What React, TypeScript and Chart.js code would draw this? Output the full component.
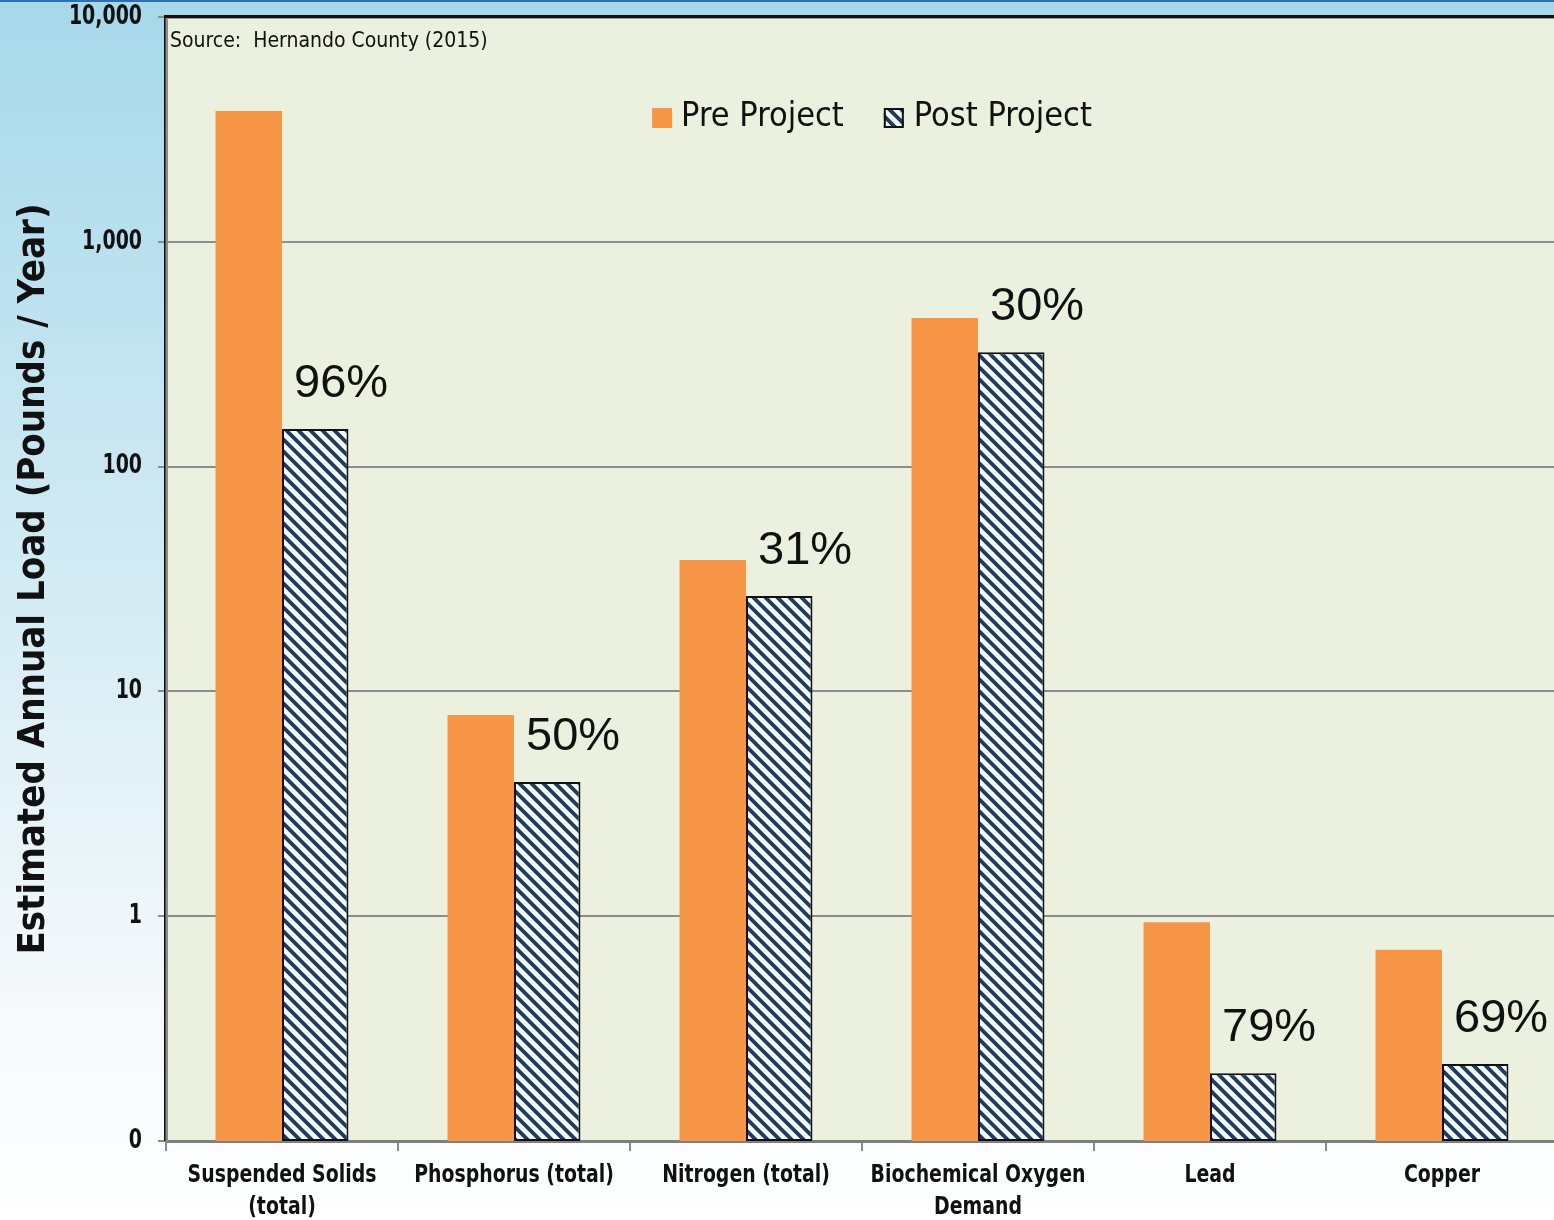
import React, { useEffect, useRef } from "react";
import { Chart, registerables } from "chart.js";

Chart.register(...registerables);

const categories: (string | string[])[] = [
  ["Suspended Solids", "(total)"],
  "Phosphorus (total)",
  "Nitrogen (total)",
  ["Biochemical Oxygen", "Demand"],
  "Lead",
  "Copper",
];
const preProject = [3820, 7.85, 38.4, 458, 0.94, 0.71];
const postProject = [147, 3.95, 26.6, 323, 0.2, 0.22];
const reductionLabels = ["96%", "50%", "31%", "30%", "79%", "69%"];
const yTickValues = [0.1, 1, 10, 100, 1000, 10000];
const yTickLabels = ["0", "1", "10", "100", "1,000", "10,000"];
const seriesNames = ["Pre Project", "Post Project"];
const sourceNote = "Source:  Hernando County (2015)";
const yAxisTitle = "Estimated Annual Load (Pounds / Year)";

const NARROW = "'DejaVu Sans Condensed', 'Liberation Sans Narrow', sans-serif";
const ORANGE = "#F79646";
const NAVY = "#1F3B5E";

function makeHatch(ctx: CanvasRenderingContext2D): CanvasPattern | string {
  const s = 12;
  const c = document.createElement("canvas");
  c.width = s;
  c.height = s;
  const g = c.getContext("2d");
  if (!g) return NAVY;
  g.fillStyle = "#F3FAFF";
  g.fillRect(0, 0, s, s);
  g.strokeStyle = NAVY;
  g.lineWidth = 3.8;
  g.beginPath();
  g.moveTo(-3, -3);
  g.lineTo(s + 3, s + 3);
  g.moveTo(-3, s - 3);
  g.lineTo(3, s + 3);
  g.moveTo(s - 3, -3);
  g.lineTo(s + 3, 3);
  g.stroke();
  return ctx.createPattern(c, "repeat") || NAVY;
}

function squeezedText(
  c: CanvasRenderingContext2D,
  text: string,
  x: number,
  y: number,
  k: number,
  align: "left" | "right" | "center"
) {
  c.save();
  c.translate(x, y);
  c.scale(k, 1);
  c.textAlign = align;
  c.fillText(text, 0, 0);
  c.restore();
}

export default function App() {
  const canvasRef = useRef<HTMLCanvasElement | null>(null);

  useEffect(() => {
    document.body.style.margin = "0";
    document.body.style.overflow = "hidden";
    const canvas = canvasRef.current;
    if (!canvas) return;
    const ctx = canvas.getContext("2d");
    if (!ctx) return;
    const hatch = makeHatch(ctx);

    const backgroundPlugin = {
      id: "bgPlugin",
      beforeDraw(chart: any) {
        const c = chart.ctx;
        const { width, height, chartArea } = chart;
        c.save();
        const grad = c.createLinearGradient(0, 0, 0, height);
        grad.addColorStop(0, "#A6D8EA");
        grad.addColorStop(0.5, "#D6ECF4");
        grad.addColorStop(0.82, "#F5F9FB");
        grad.addColorStop(1, "#FFFFFF");
        c.fillStyle = grad;
        c.fillRect(0, 0, width, height);
        c.fillStyle = "#2F6FAF";
        c.fillRect(0, 0, width, 2);
        c.fillStyle = "#EBF0DF";
        c.fillRect(chartArea.left, chartArea.top, chartArea.right - chartArea.left, chartArea.bottom - chartArea.top);
        c.restore();
      },
      afterDraw(chart: any) {
        const c = chart.ctx;
        const { chartArea } = chart;
        c.save();
        // top black frame
        c.fillStyle = "#111111";
        c.fillRect(chartArea.left - 2, chartArea.top - 2, chartArea.right - chartArea.left + 4, 3);
        c.fillStyle = "#9A9A9A";
        c.fillRect(chartArea.left, chartArea.top + 1, chartArea.right - chartArea.left, 1);
        c.fillStyle = "#111111";
        c.fillRect(chartArea.left - 2, chartArea.top - 2, 1.5, chartArea.bottom - chartArea.top + 2);

        // source note
        c.fillStyle = "#111111";
        c.font = `21px ${NARROW}`;
        c.textAlign = "left";
        c.textBaseline = "middle";
        c.fillText(sourceNote, chartArea.left + 4, chartArea.top + 25);

        // legend
        c.font = `34px ${NARROW}`;
        const box = 20;
        const w1 = c.measureText(seriesNames[0]).width;
        const w2 = c.measureText(seriesNames[1]).width;
        const total = box + 9 + w1 + 40 + box + 10 + w2;
        const cx = (chartArea.left + chartArea.right) / 2 + 10;
        const cy = chartArea.top + 100;
        let x = cx - total / 2;
        c.fillStyle = ORANGE;
        c.fillRect(x, cy - box / 2 + 1, box, box);
        x += box + 9;
        c.fillStyle = "#111111";
        c.textBaseline = "middle";
        c.fillText(seriesNames[0], x, cy);
        x += w1 + 40;
        c.fillStyle = hatch as any;
        c.fillRect(x, cy - box / 2 + 1, box, box);
        c.strokeStyle = "#111111";
        c.lineWidth = 2;
        c.strokeRect(x + 1, cy - box / 2 + 2, box - 2, box - 2);
        x += box + 10;
        c.fillStyle = "#111111";
        c.textAlign = "left";
        c.fillText(seriesNames[1], x, cy);

        // y tick labels
        const ys = chart.scales.y;
        c.font = `bold 26px ${NARROW}`;
        c.textBaseline = "middle";
        yTickValues.forEach((v, i) => {
          squeezedText(c, yTickLabels[i], ys.right - 24, ys.getPixelForValue(v), 0.81, "right");
        });

        // x tick labels
        const xs = chart.scales.x;
        c.font = `bold 25px ${NARROW}`;
        categories.forEach((cat, i) => {
          const lines = Array.isArray(cat) ? cat : [cat];
          const px = xs.getPixelForTick(i);
          lines.forEach((ln, j) => {
            squeezedText(c, ln, px, xs.top + 34 + j * 32, 0.84, "center");
          });
        });
        c.restore();
      },
      afterDatasetsDraw(chart: any) {
        const c = chart.ctx;
        const meta = chart.getDatasetMeta(1);
        c.save();
        c.font = "47px 'Liberation Sans', Arial, sans-serif";
        c.fillStyle = "#111111";
        c.textAlign = "left";
        c.textBaseline = "middle";
        meta.data.forEach((bar: any, i: number) => {
          const left = bar.x - bar.width / 2;
          c.fillText(reductionLabels[i], left + 12, bar.y - 45);
        });
        c.restore();
      },
    };

    const chart = new Chart(ctx, {
      type: "bar",
      data: {
        labels: categories as any,
        datasets: [
          {
            label: seriesNames[0],
            data: preProject,
            backgroundColor: ORANGE,
            borderWidth: 0,
            barPercentage: 1,
            categoryPercentage: 0.573,
          },
          {
            label: seriesNames[1],
            data: postProject,
            backgroundColor: hatch as any,
            borderColor: "#111111",
            borderWidth: 2,
            borderSkipped: false,
            barPercentage: 1,
            categoryPercentage: 0.573,
          },
        ],
      },
      options: {
        animation: false,
        responsive: true,
        maintainAspectRatio: false,
        layout: { padding: { top: 17, left: 0, right: 4, bottom: 0 } },
        plugins: {
          legend: { display: false },
          tooltip: { enabled: false },
        },
        scales: {
          x: {
            type: "category",
            offset: true,
            afterFit(scale: any) {
              scale.height = 79;
            },
            grid: {
              display: true,
              offset: true,
              drawOnChartArea: false,
              drawTicks: true,
              tickLength: 10,
              color: "#8C8C8C",
              lineWidth: 2,
            },
            border: { display: true, color: "#7F7F7F", width: 3 },
            ticks: { display: false, autoSkip: false, maxRotation: 0 },
          },
          y: {
            type: "logarithmic",
            min: yTickValues[0],
            max: yTickValues[yTickValues.length - 1],
            afterFit(scale: any) {
              scale.width = 166;
            },
            afterBuildTicks(scale: any) {
              scale.ticks = yTickValues.map((v) => ({ value: v }));
            },
            grid: {
              display: true,
              color: "#8C8C8C",
              lineWidth: 2,
              drawTicks: true,
              tickLength: 8,
            },
            border: { display: true, color: "#8C8C8C", width: 3 },
            ticks: { display: false },
            title: {
              display: true,
              text: yAxisTitle,
              color: "#111111",
              padding: { top: 11, bottom: 0 },
              font: { family: NARROW, size: 38, weight: "bold" },
            },
          },
        },
      },
      plugins: [backgroundPlugin],
    });

    return () => {
      chart.destroy();
    };
  }, []);

  return (
    <div style={{ width: 1554, height: 1220, overflow: "hidden", position: "relative" }}>
      <div style={{ width: 1562, height: 1220, position: "absolute", left: 0, top: 0 }}>
        <canvas ref={canvasRef} />
      </div>
    </div>
  );
}
